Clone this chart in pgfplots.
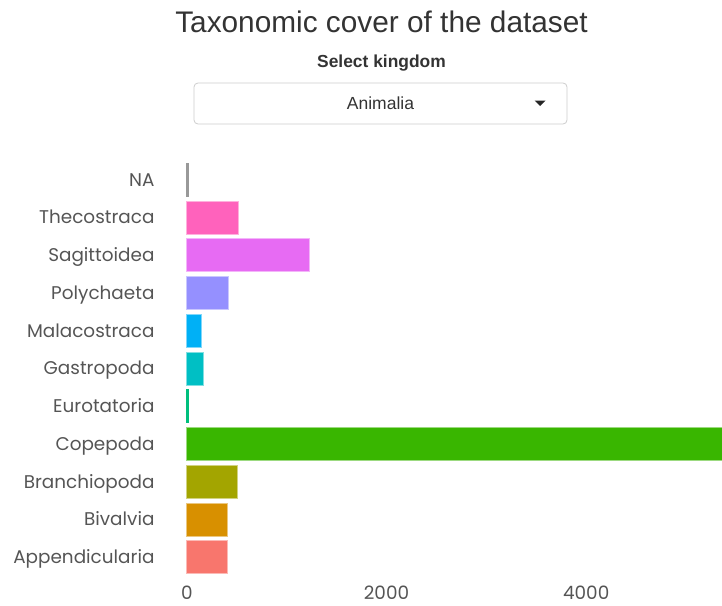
\documentclass[border=0pt]{standalone}
\usepackage{pgfplots}
\pgfplotsset{compat=1.18}
\usepackage{fontspec}
\setmainfont{Liberation Sans}
\newfontfamily\lblfont{Poppins}
\definecolor{cApp}{HTML}{F8766D}
\definecolor{cBiv}{HTML}{D89000}
\definecolor{cBra}{HTML}{A3A500}
\definecolor{cCop}{HTML}{39B600}
\definecolor{cEur}{HTML}{00BF7D}
\definecolor{cGas}{HTML}{00BFC4}
\definecolor{cMal}{HTML}{00B0F6}
\definecolor{cPol}{HTML}{9590FF}
\definecolor{cSag}{HTML}{E76BF3}
\definecolor{cThe}{HTML}{FF62BC}
\definecolor{cNA}{HTML}{999999}
\definecolor{txt}{HTML}{555555}
\begin{document}
\begin{tikzpicture}[x=1pt,y=1pt]
\path[use as bounding box] (0,0) rectangle (722,-605);
\node[font=\fontsize{29.8}{34}\selectfont, text=black!80] at (381.5,-22) {Taxonomic cover of the dataset};
\node[font=\bfseries\fontsize{17.4}{20}\selectfont, text=black!80] at (381.5,-63.5) {Select kingdom};
\draw[rounded corners=4pt, draw=black!20, line width=0.8pt] (194,-83) rectangle (567,-124);
\node[font=\fontsize{17.5}{20}\selectfont, text=black!80] at (380.5,-103) {Animalia};
\fill[black!85] (534.5,-100.5) -- (545.5,-100.5) -- (540,-106) -- cycle;
\begin{axis}[
  at={(186pt,-576pt)}, anchor=south west,
  scale only axis, width=536pt, height=415pt,
  xmin=-8, xmax=5360, ymin=-0.5, ymax=10.5,
  xbar, bar width=0.875,
  axis line style={draw=none}, major tick length=0pt, tick style={draw=none},
  ytick={0,1,2,3,4,5,6,7,8,9,10},
  yticklabels={Appendicularia,Bivalvia,Branchiopoda,Copepoda,Eurotatoria,Gastropoda,Malacostraca,Polychaeta,Sagittoidea,Thecostraca,NA},
  xtick={0,2000,4000}, xticklabels={0,2000,4000},
  ticklabel style={font=\lblfont\fontsize{18.4}{21}\selectfont, text=txt},
  yticklabel style={xshift=-28pt, text height=16pt, text depth=3.2pt},
  xticklabel style={yshift=-6pt},
  every axis plot/.append style={bar shift=0pt, line width=0.8pt},
]
\addplot[fill=cApp, draw=cApp!50!white] coordinates {(410,0)};
\addplot[fill=cBiv, draw=cBiv!50!white] coordinates {(410,1)};
\addplot[fill=cBra, draw=cBra!50!white] coordinates {(505,2)};
\addplot[fill=cCop, draw=cCop!50!white] coordinates {(5400,3)};
\addplot[fill=cEur, draw=cEur] coordinates {(15,4)};
\addplot[fill=cGas, draw=cGas!50!white] coordinates {(165,5)};
\addplot[fill=cMal, draw=cMal!50!white] coordinates {(150,6)};
\addplot[fill=cPol, draw=cPol!50!white] coordinates {(415,7)};
\addplot[fill=cSag, draw=cSag!50!white] coordinates {(1230,8)};
\addplot[fill=cThe, draw=cThe!50!white] coordinates {(520,9)};
\addplot[fill=cNA, draw=cNA] coordinates {(15,10)};
\end{axis}
\end{tikzpicture}
\end{document}
